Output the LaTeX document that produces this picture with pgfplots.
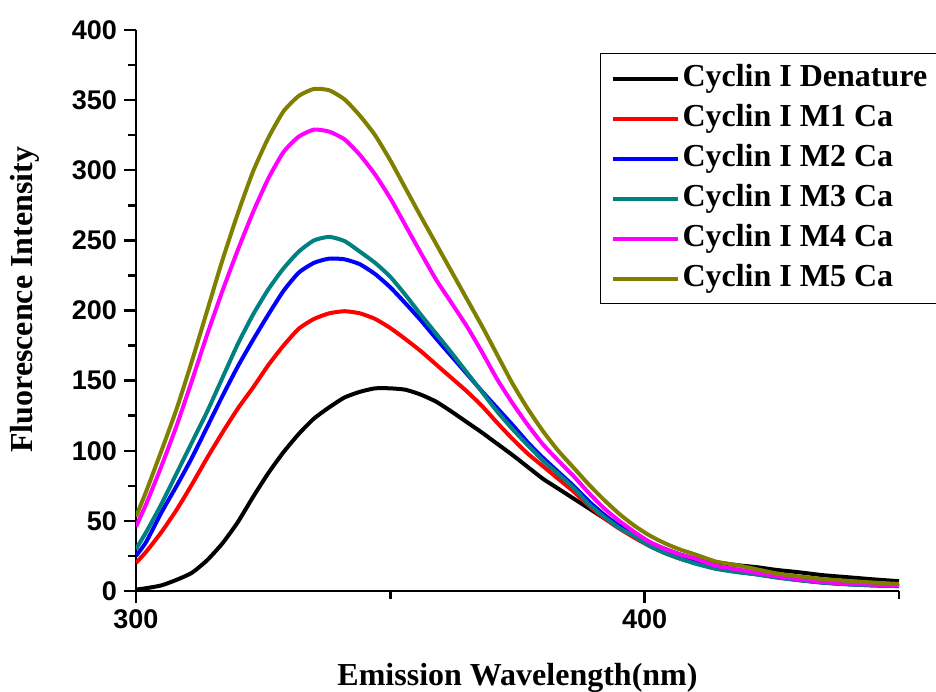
\documentclass[border=0pt]{standalone}
\usepackage{fontspec}
\setmainfont{Liberation Serif}
\newfontfamily\arialfont{Liberation Sans}
\usepackage{pgfplots}
\pgfplotsset{compat=1.18}

\definecolor{cred}{RGB}{255,0,0}
\definecolor{cblue}{RGB}{0,0,255}
\definecolor{cteal}{RGB}{0,128,128}
\definecolor{cmag}{RGB}{255,0,255}
\definecolor{colive}{RGB}{128,128,0}

\begin{document}
\begin{tikzpicture}
\begin{axis}[
  scale only axis, width=381.5pt, height=280.5pt,
  xmin=300, xmax=450, ymin=0, ymax=400,
  axis lines*=left, axis line style={-, line width=1.2pt},
  tick align=outside, tick style={line width=1.2pt, black},
  major tick length=6pt, minor tick length=3.8pt,
  xtick={300,400}, minor xtick={350,450},
  ytick={0,50,...,400}, minor ytick={25,75,...,375},
  /pgf/number format/assume math mode=true,
  tick label style={font=\arialfont\bfseries\fontsize{13.5}{15}\selectfont},
  label style={font=\bfseries\fontsize{16}{18}\selectfont},
  xlabel={Emission Wavelength(nm)},
  ylabel={Fluorescence Intensity},
  xlabel style={at={(axis description cs:0.5,-0.1676)}, anchor=base},
  ylabel style={at={(axis description cs:-0.135,0.519)}, anchor=base, rotate=0},
  legend cell align=left,
  legend image code/.code={\draw[#1] (0pt,0pt) -- (32.5pt,0pt);},
  legend style={at={(axis description cs:0.608,0.959)}, anchor=north west,
    draw=black, line width=0.6pt, font=\bfseries\fontsize{16}{18}\selectfont,
    inner xsep=5pt, inner ysep=4pt, row sep=3pt,
    nodes={inner sep=1.5pt, text height=11pt, text depth=3pt}},
  every axis plot/.append style={line width=2pt, line join=round, smooth, tension=0.35},
]
% Cyclin I Denature
\addplot[black] coordinates {
(300,1) (302,2) (305,4) (308,8) (311,13) (314,22) (317,34) (320,49) (323,67) (326,84)
(329,99) (332,112) (335,123) (338,131) (341,138) (344,142) (347,144.5) (350,144.5) (353,143.5) (356,140)
(359,135) (362,128) (365,120.5) (368,113) (371,105) (374,97) (377,88.5) (380,80) (383,73) (386,66)
(389,59) (392,52) (395,46) (398,40) (401,34.5) (404,30) (407,26) (410,23) (414,20.5) (418,18.5)
(422,17) (426,15) (430,13.5) (435,11.3) (440,9.8) (445,8.3) (450,7)};
\addlegendentry{Cyclin I Denature}
% Cyclin I M1 Ca
\addplot[cred] coordinates {
(300,20) (302,28) (305,42) (308,58) (311,76) (314,95) (317,113) (320,130) (323,145) (326,161)
(329,175) (332,187) (335,194) (338,198) (341,199.5) (344,198) (347,194) (350,187.5) (353,179.5) (356,171)
(359,161.5) (362,152) (365,142.5) (368,132) (371,120) (374,108.5) (377,98) (380,89) (383,80) (386,71)
(389,61) (392,52) (395,44.5) (398,38) (401,32) (404,27) (407,23) (410,20) (414,16.5) (418,14)
(422,12) (426,10) (430,8) (435,6.2) (440,5) (445,4.2) (450,3.6)};
\addlegendentry{Cyclin I M1 Ca}
% Cyclin I M2 Ca
\addplot[cblue] coordinates {
(300,25) (302,35) (305,56) (308,75) (311,95) (314,117) (317,139) (320,160) (323,179) (326,197)
(329,214) (332,227) (335,234) (338,237) (341,236.5) (344,233) (347,226) (350,216.5) (353,205) (356,193)
(359,180) (362,167.5) (365,155) (368,142.5) (371,130.5) (374,118.5) (377,106) (380,95) (383,85) (386,75)
(389,64) (392,54.5) (395,46.5) (398,40) (401,33) (404,28) (407,24) (410,21) (414,17) (418,14)
(422,12) (426,10) (430,8) (435,6) (440,4.8) (445,4) (450,3.5)};
\addlegendentry{Cyclin I M2 Ca}
% Cyclin I M3 Ca
\addplot[cteal] coordinates {
(300,30) (302,42) (305,62) (308,84) (311,106) (314,128) (317,152) (320,176) (323,197) (326,215)
(329,230) (332,242) (335,250) (338,252.5) (341,249.5) (344,242) (347,234) (350,224) (353,211) (356,197)
(359,183.5) (362,170) (365,156) (368,142) (371,128) (374,115.5) (377,104) (380,93) (383,83.5) (386,73.5)
(389,62) (392,53) (395,45) (398,39) (401,32) (404,27) (407,23) (410,19.5) (414,15.8) (418,13.5)
(422,11.8) (426,9.5) (430,7.8) (435,6) (440,4.8) (445,4) (450,3.5)};
\addlegendentry{Cyclin I M3 Ca}
% Cyclin I M4 Ca
\addplot[cmag] coordinates {
(300,46) (302,62) (305,89) (308,118) (311,150) (314,183) (317,214) (320,243) (323,270) (326,294)
(329,313) (332,324) (335,329) (338,327.5) (341,322) (344,311) (347,297) (350,280) (353,260.5) (356,241)
(359,222) (362,205.5) (365,189) (368,170.5) (371,151) (374,134) (377,118.5) (380,104.5) (383,93) (386,82)
(389,70) (392,59) (395,50) (398,42) (401,35) (404,30) (407,26) (410,23) (414,18) (418,15.5)
(422,13) (426,10.5) (430,8.5) (435,6.5) (440,5.3) (445,4.5) (450,3.8)};
\addlegendentry{Cyclin I M4 Ca}
% Cyclin I M5 Ca
\addplot[colive] coordinates {
(300,53) (302,71) (305,100) (308,130) (311,164) (314,200) (317,236) (320,269) (323,299) (326,323)
(329,342) (332,353) (335,358) (338,357) (341,350.5) (344,339) (347,325) (350,307) (353,287) (356,267)
(359,247.5) (362,228) (365,208.5) (368,189) (371,168.5) (374,148) (377,130) (380,114) (383,100) (386,88)
(389,76) (392,65) (395,55) (398,46.5) (401,39.5) (404,34) (407,29.5) (410,26) (414,21) (418,18.5)
(422,15.5) (426,12.5) (430,10.5) (435,8.5) (440,7.2) (445,6) (450,5)};
\addlegendentry{Cyclin I M5 Ca}
\end{axis}
\pgfresetboundingbox
\useasboundingbox (-68pt,-50pt) rectangle (400pt,295.5pt);
\end{tikzpicture}
\end{document}
